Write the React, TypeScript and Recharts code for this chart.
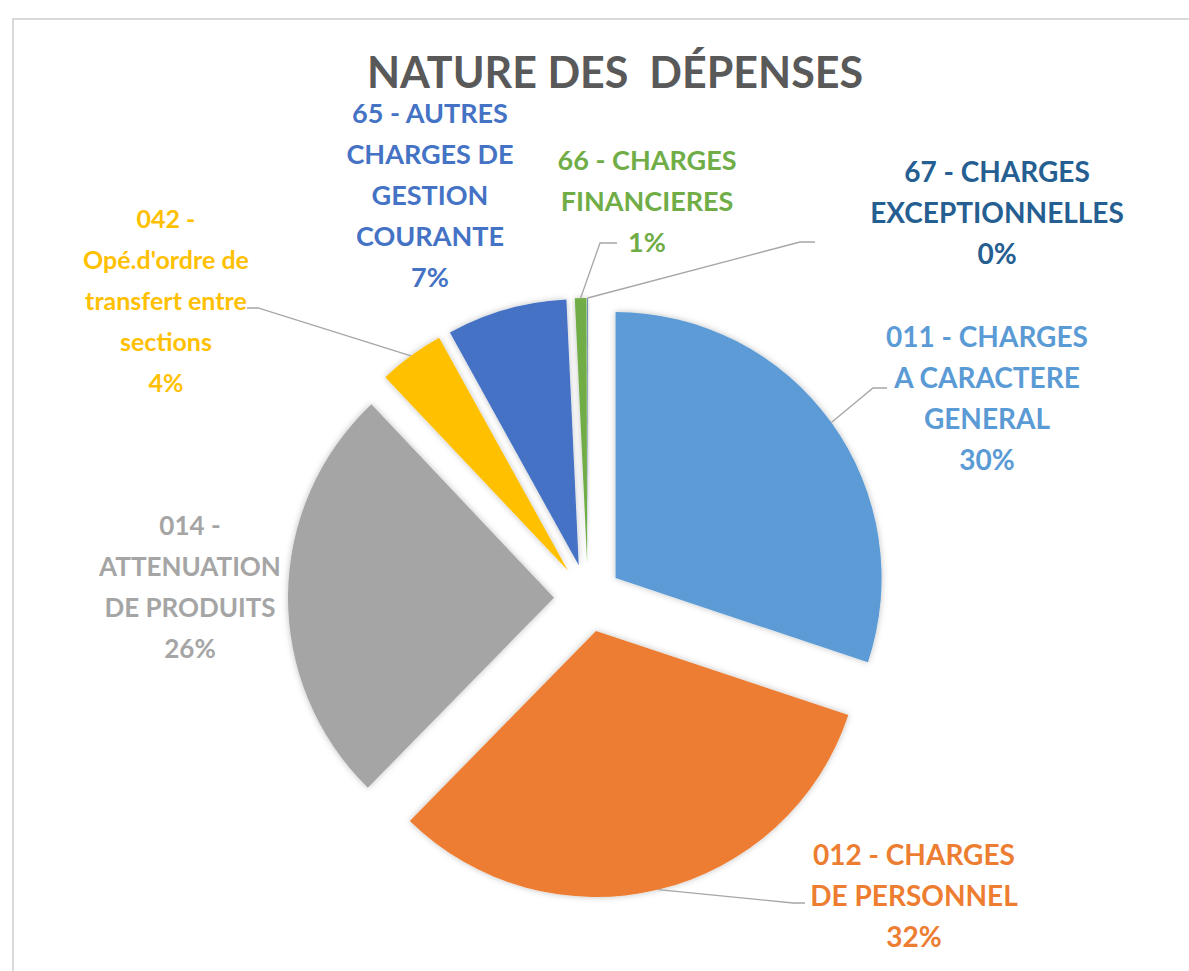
import React from 'react';
import { PieChart, Pie, Sector } from 'recharts';

const categories = [
  '011 - CHARGES\nA CARACTERE\nGENERAL',
  '012 - CHARGES\nDE PERSONNEL',
  '014 -\nATTENUATION\nDE PRODUITS',
  "042 -\nOpé.d'ordre de\ntransfert entre\nsections",
  '65 - AUTRES\nCHARGES DE\nGESTION\nCOURANTE',
  '66 - CHARGES\nFINANCIERES',
  '67 - CHARGES\nEXCEPTIONNELLES',
];
const values = [30.1, 32.2, 25.6, 4.0, 7.3, 0.7, 0.04];
const colors = ['#5B9BD5', '#ED7D31', '#A5A5A5', '#FFC000', '#4472C4', '#70AD47', '#255E91'];

// where each data label sits: text centre x, first baseline y, font size, leader elbow + end
const labelSpots: { x: number; y: number; fs: number; line?: number[][] }[] = [
  { x: 987, y: 347, fs: 28, line: [[873, 388], [887, 388]] },
  { x: 914, y: 865, fs: 28, line: [[793, 903], [805, 903]] },
  { x: 190, y: 535, fs: 26 },
  { x: 166, y: 228, fs: 25, line: [[258, 308], [247, 308]] },
  { x: 430, y: 123, fs: 27 },
  { x: 647, y: 170, fs: 27, line: [[600, 243], [617, 243]] },
  { x: 997, y: 182, fs: 28, line: [[800, 242], [815, 242]] },
];

const data = categories.map((name, i) => ({ name, value: values[i] }));

const RADIUS = 266;
const EXPLODE = 34;
const LINE_H = 41;
const RAD = Math.PI / 180;
const FONT = 'Lato, "Open Sans", sans-serif';

// draws the exploded slice plus its label (Excel-style)
const renderSlice = (props: any) => {
  const { cx, cy, startAngle, endAngle, outerRadius, index, percent } = props;
  const mid = (startAngle + endAngle) / 2;
  const ox = cx + EXPLODE * Math.cos(-mid * RAD);
  const oy = cy + EXPLODE * Math.sin(-mid * RAD);
  const edgeX = ox + outerRadius * Math.cos(-mid * RAD);
  const edgeY = oy + outerRadius * Math.sin(-mid * RAD);
  const spot = labelSpots[index];
  const lines = [...categories[index].split('\n'), `${Math.round(percent * 100)}%`];
  return (
    <g>
      <g filter="url(#sliceShadow)">
        <Sector
          cx={ox}
          cy={oy}
          innerRadius={0}
          outerRadius={outerRadius}
          startAngle={startAngle}
          endAngle={endAngle}
          fill={colors[index]}
          stroke="none"
        />
      </g>
      {spot.line && (
        <polyline
          points={[[edgeX, edgeY], ...spot.line].map((p) => p.join(',')).join(' ')}
          fill="none"
          stroke="#A6A6A6"
          strokeWidth={1.3}
        />
      )}
      <text
        x={spot.x}
        y={spot.y}
        textAnchor="middle"
        fill={colors[index]}
        fontFamily={FONT}
        fontWeight={700}
        fontSize={spot.fs}
      >
        {lines.map((l, k) => (
          <tspan key={k} x={spot.x} dy={k === 0 ? 0 : LINE_H}>
            {l}
          </tspan>
        ))}
      </text>
    </g>
  );
};

export default function App() {
  return (
    <div style={{ position: 'absolute', left: 0, top: 0, width: 1189, height: 971, overflow: 'hidden', background: '#fff' }}>
      <div
        style={{
          position: 'absolute',
          left: 12,
          top: 18,
          width: 1200,
          height: 1000,
          borderLeft: '2px solid #D9D9D9',
          borderTop: '2px solid #D9D9D9',
        }}
      />
      <svg width={0} height={0} style={{ position: 'absolute' }}>
        <defs>
          <filter id="sliceShadow" x="-20%" y="-20%" width="140%" height="140%">
            <feDropShadow dx="0" dy="0" stdDeviation="3" floodColor="#000" floodOpacity="0.25" />
          </filter>
        </defs>
      </svg>
      <div style={{ position: 'absolute', left: 0, top: 0 }}>
        <PieChart width={1189} height={971}>
          <Pie
            data={data}
            dataKey="value"
            nameKey="name"
            cx={583}
            cy={593}
            outerRadius={RADIUS}
            startAngle={90}
            endAngle={-270}
            fill="transparent"
            stroke="none"
            label={renderSlice}
            labelLine={false}
            isAnimationActive={false}
          />
        </PieChart>
      </div>
      <svg width={1189} height={971} style={{ position: 'absolute', left: 0, top: 0, pointerEvents: 'none' }}>
        <text
          x={615}
          y={88}
          textAnchor="middle"
          fill="#595959"
          fontFamily={FONT}
          fontWeight={700}
          fontSize={43}
          style={{ whiteSpace: 'pre' }}
        >
          {'NATURE DES  DÉPENSES'}
        </text>
      </svg>
    </div>
  );
}
